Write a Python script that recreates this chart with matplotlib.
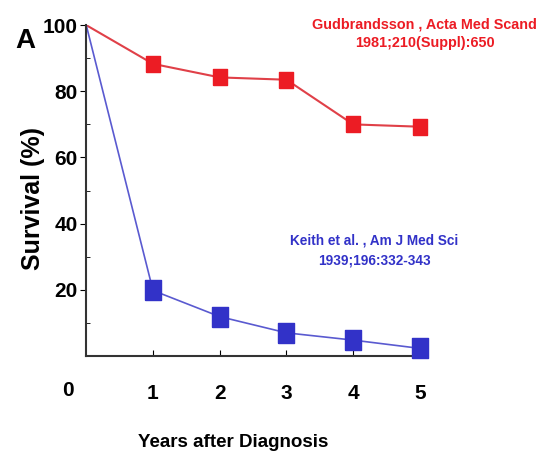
import matplotlib
matplotlib.use("Agg")
import matplotlib.pyplot as plt
from matplotlib.ticker import MultipleLocator

years = [0, 1, 2, 3, 4, 5]
gudbrandsson = [100, 88.3, 84.2, 83.5, 70, 69.3]
keith = [100, 19.8, 11.9, 7, 4.8, 2.3]
yticks = [20, 40, 60, 80, 100]
xticks = [1, 2, 3, 4, 5]

fam = ['Liberation Sans', 'DejaVu Sans']
plt.rcParams['font.family'] = fam

fig = plt.figure(figsize=(5.6, 4.57), dpi=100)
ax = fig.add_axes([0.154, 0.221, 0.596, 0.724])

red = '#ec1c24'
blue = '#3232c8'
rect = [(-0.4, -0.5), (0.4, -0.5), (0.4, 0.5), (-0.4, 0.5), (-0.4, -0.5)]
ax.plot(years, gudbrandsson, color='#e04048', lw=1.5, zorder=2)
ax.plot(years[1:], gudbrandsson[1:], ls='none', marker=rect, ms=12, color=red,
        zorder=3, clip_on=False)
ax.plot(years, keith, color='#5a5ad0', lw=1.2, zorder=2)
ax.plot(years[1:], keith[1:], ls='none', marker=rect, ms=14, color=blue,
        zorder=3, clip_on=False)

ax.set_xlim(0, 5)
ax.set_ylim(0, 100)
ax.set_xticks(xticks)
ax.set_yticks(yticks)
ax.yaxis.set_minor_locator(MultipleLocator(10))
for s in ['top', 'right']:
    ax.spines[s].set_visible(False)
for s in ['left', 'bottom']:
    ax.spines[s].set_linewidth(1.5)
    ax.spines[s].set_color('#333333')
ax.tick_params(axis='x', direction='in', length=4, pad=20, labelsize=15)
ax.tick_params(axis='y', direction='out', length=4, pad=2, labelsize=15)
ax.tick_params(axis='y', which='minor', direction='in', length=3)
for lab in ax.get_xticklabels() + ax.get_yticklabels():
    lab.set_fontweight('bold')

ax.text(-0.28, -7.5, '0', ha='center', va='top', fontsize=15, fontweight='bold')

ax.set_ylabel('Survival (%)', fontsize=18, fontweight='bold')
ax.yaxis.set_label_coords(-0.125, 0.475)
ax.set_xlabel('Years after Diagnosis', fontsize=13.5, fontweight='bold')
ax.xaxis.set_label_coords(0.44, -0.235)

fig.text(0.045, 0.91, 'A', fontsize=20, fontweight='bold', ha='center', va='center')

ax.text(5.07, 97.4, 'Gudbrandsson , Acta Med Scand\n1981;210(Suppl):650',
        color=red, ha='center', va='center', fontsize=10.4, fontweight='bold',
        linespacing=1.45)
ax.text(4.31, 31.9, 'Keith et al. , Am J Med Sci\n1939;196:332-343',
        color=blue, ha='center', va='center', fontsize=9.8, fontweight='bold',
        linespacing=1.5)

fig.savefig('out.png', dpi=100)
